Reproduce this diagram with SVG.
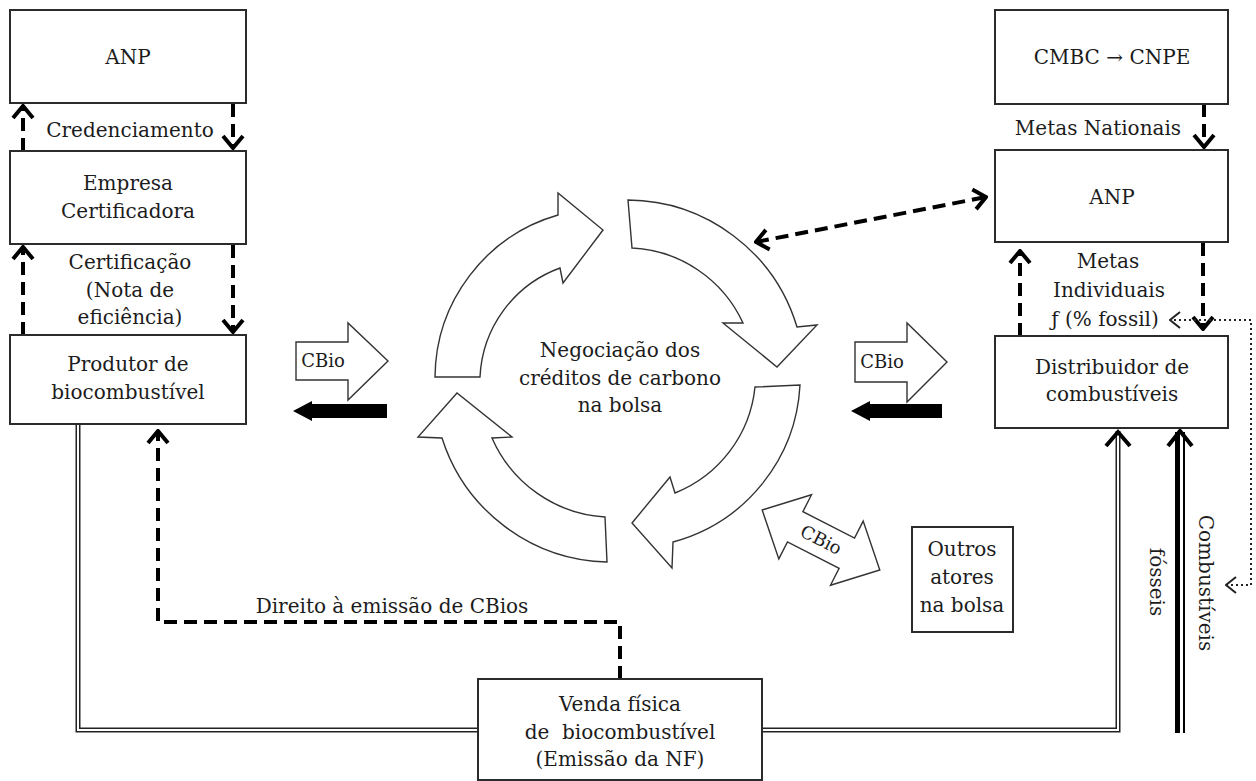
<svg xmlns="http://www.w3.org/2000/svg" width="1256" height="781" viewBox="0 0 1256 781">
  <style>
    .box { fill: #fff; stroke: #2b2b2b; stroke-width: 2; }
    .t { font-family: "DejaVu Serif", "Liberation Serif", serif; font-size: 20px; fill: #1c1c1c; text-anchor: middle; }
    .s { font-size: 18px; }
    .dash { fill: none; stroke: #000; stroke-width: 4; stroke-dasharray: 13 7; }
    .dot { fill: none; stroke: #222; stroke-width: 2; stroke-dasharray: 2 3; }
    .ring { fill: #fff; stroke: #333; stroke-width: 1.4; stroke-linejoin: miter; }
    .dbl-out { fill: none; stroke: #222; stroke-width: 5; }
    .dbl-in { fill: none; stroke: #fff; stroke-width: 2; }
    .chev { fill: none; stroke: #000; stroke-width: 4; stroke-linejoin: miter; }
  </style>
  <defs>
    <marker id="head" viewBox="0 0 16 24" refX="14" refY="12" markerWidth="16" markerHeight="24" markerUnits="userSpaceOnUse" orient="auto-start-reverse">
      <path d="M2,2 L14,12 L2,22" fill="none" stroke="#000" stroke-width="4" stroke-dasharray="none"/>
    </marker>
    <marker id="headDot" viewBox="0 0 12 18" refX="11" refY="9" markerWidth="12" markerHeight="18" markerUnits="userSpaceOnUse" orient="auto-start-reverse">
      <path d="M1,1 L11,9 L1,17" fill="none" stroke="#222" stroke-width="2" stroke-dasharray="none"/>
    </marker>
  </defs>

  <rect width="1256" height="781" fill="#fff"/>

  <!-- connectors -->
  <g id="connectors">
    <!-- left column -->
    <path class="dash" d="M23 151 V106" marker-end="url(#head)"/>
    <path class="dash" d="M233 104 V148" marker-end="url(#head)"/>
    <path class="dash" d="M23 335 V247" marker-end="url(#head)"/>
    <path class="dash" d="M233 245 V332" marker-end="url(#head)"/>
    <!-- right column -->
    <path class="dash" d="M1204 104 V147" marker-end="url(#head)"/>
    <path class="dash" d="M1020 336 V251" marker-end="url(#head)"/>
    <path class="dash" d="M1203 243 V329" marker-end="url(#head)"/>
    <!-- ANP <-> market -->
    <path class="dash" d="M756 242 L986 197" marker-start="url(#head)" marker-end="url(#head)"/>
    <!-- right of CBios from the sale -->
    <path class="dash" d="M620 679 V622 H158 V431" marker-end="url(#head)"/>
    <!-- dotted feedback loop -->
    <path class="dot" d="M1226 585 H1251 V320 H1170" marker-start="url(#headDot)" marker-end="url(#headDot)"/>

    <!-- physical flow of biofuel (double line) -->
    <path class="dbl-out" d="M478 730 H78 V425"/>
    <path class="dbl-in" d="M478 730 H78 V425"/>
    <path class="dbl-out" d="M762 730 H1118 V431"/>
    <path class="dbl-in" d="M762 730 H1118 V431"/>
    <polyline class="chev" points="1106,446 1118,432 1130,446"/>

    <!-- fossil fuels flow -->
    <line x1="1177.5" y1="733" x2="1177.5" y2="432" stroke="#000" stroke-width="5"/>
    <line x1="1184" y1="733" x2="1184" y2="432" stroke="#000" stroke-width="2"/>
    <polyline class="chev" points="1168,446 1180,431 1192,446"/>
  </g>

  <!-- trading cycle -->
  <g id="cycle">
    <path class="ring" d="M435 377 A170 170 0 0 1 558 215 L558 193 L603 230 L563 283 L560 268 A122 122 0 0 0 480 377 Z"/>
    <path class="ring" d="M628 200 A178 178 0 0 1 797 327 L817 325 L777 367 L723 323 L743 323 A129 129 0 0 0 632 248 Z"/>
    <path class="ring" d="M800 385 A172 172 0 0 1 673 542 L672 568 L632 523 L670 477 L675 493 A128 128 0 0 0 755 387 Z"/>
    <path class="ring" d="M607 562 A178 178 0 0 1 442 438 L418 437 L457 393 L512 437 L492 438 A132 132 0 0 0 605 517 Z"/>
    <text class="t" x="620" y="357">Negociação dos</text>
    <text class="t" x="620" y="385">créditos de carbono</text>
    <text class="t" x="620" y="412">na bolsa</text>
  </g>

  <!-- CBio flows -->
  <g id="cbio-left">
    <path class="ring" d="M296 342 H348 V323 L388 361 L348 400 V380 H296 Z" stroke-width="1.6"/>
    <text class="t s" x="323" y="367">CBio</text>
    <path d="M293 411 L312 401 V404 H387 V418 H312 V421 Z" fill="#000"/>
  </g>
  <g id="cbio-right">
    <path class="ring" d="M855 342 H907 V323 L947 362 L907 402 V382 H855 Z" stroke-width="1.6"/>
    <text class="t s" x="882" y="368">CBio</text>
    <path d="M851 411 L870 401 V404 H942 V418 H870 V421 Z" fill="#000"/>
  </g>
  <g id="cbio-other" transform="translate(821 540) rotate(27)">
    <path class="ring" d="M-66 0 L-29 -36 V-17 H29 V-36 L66 0 L29 36 V17 H-29 V36 Z" stroke-width="1.6"/>
    <text class="t s" x="0" y="6">CBio</text>
  </g>

  <!-- nodes -->
  <g id="anp-left">
    <rect class="box" x="10" y="10" width="236" height="93"/>
    <text class="t" x="128" y="64">ANP</text>
  </g>
  <text class="t" x="130" y="137">Credenciamento</text>
  <g id="empresa-certificadora">
    <rect class="box" x="10" y="151" width="236" height="93"/>
    <text class="t" x="128" y="190">Empresa</text>
    <text class="t" x="128" y="218">Certificadora</text>
  </g>
  <text class="t" x="130" y="269">Certificação</text>
  <text class="t" x="130" y="297">(Nota de</text>
  <text class="t" x="130" y="324">eficiência)</text>
  <g id="produtor">
    <rect class="box" x="10" y="335" width="236" height="89"/>
    <text class="t" x="128" y="371">Produtor de</text>
    <text class="t" x="128" y="399">biocombustível</text>
  </g>

  <g id="cmbc-cnpe">
    <rect class="box" x="995" y="10" width="233" height="94"/>
    <text class="t" x="1112" y="64">CMBC → CNPE</text>
  </g>
  <text class="t" x="1098" y="135">Metas Nationais</text>
  <g id="anp-right">
    <rect class="box" x="995" y="150" width="233" height="92"/>
    <text class="t" x="1112" y="204">ANP</text>
  </g>
  <text class="t" x="1108" y="268">Metas</text>
  <text class="t" x="1109" y="297">Individuais</text>
  <text class="t" x="1105" y="326">ƒ (% fossil)</text>
  <g id="distribuidor">
    <rect class="box" x="995" y="336" width="233" height="92"/>
    <text class="t" x="1112" y="374">Distribuidor de</text>
    <text class="t" x="1112" y="401">combustíveis</text>
  </g>

  <g id="outros-atores">
    <rect class="box" x="912" y="527" width="101" height="105"/>
    <text class="t" x="962" y="556">Outros</text>
    <text class="t" x="962" y="584">atores</text>
    <text class="t" x="962" y="612">na bolsa</text>
  </g>

  <text class="t" x="392" y="613">Direito à emissão de CBios</text>

  <g id="venda-fisica">
    <rect class="box" x="478" y="679" width="284" height="101"/>
    <text class="t" x="620" y="711">Venda física</text>
    <text class="t" x="620" y="739" xml:space="preserve">de  biocombustível</text>
    <text class="t" x="620" y="766">(Emissão da NF)</text>
  </g>

  <text class="t" transform="translate(1206 583) rotate(90)" dominant-baseline="central">Combustíveis</text>
  <text class="t" transform="translate(1157 582) rotate(90)" dominant-baseline="central">fósseis</text>
</svg>
